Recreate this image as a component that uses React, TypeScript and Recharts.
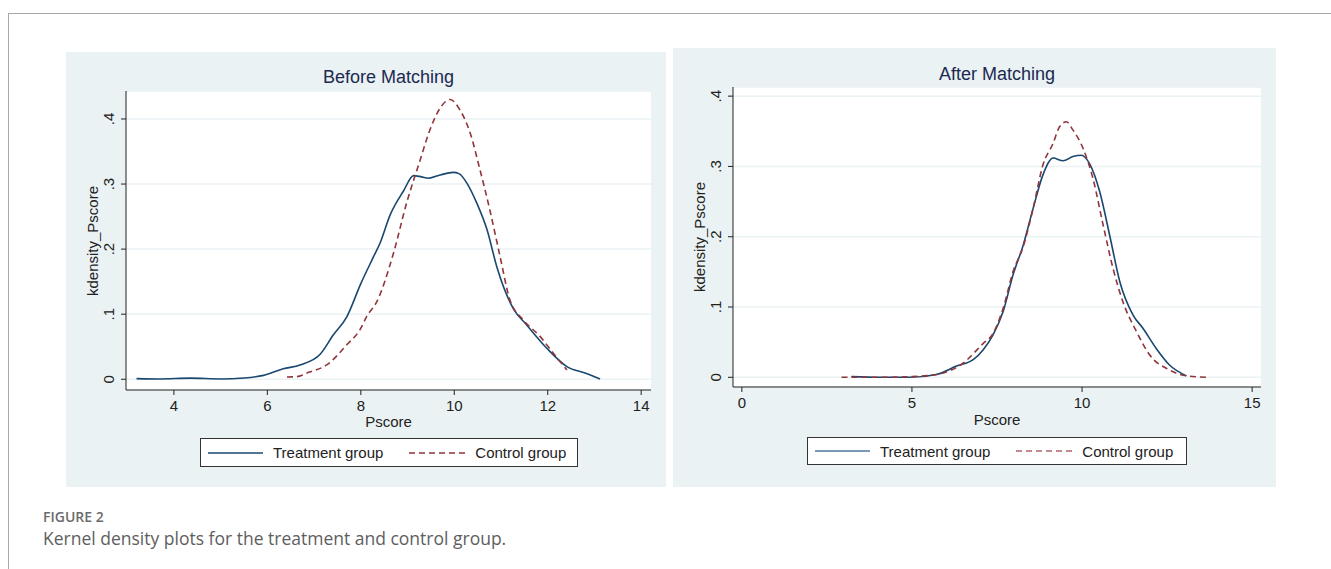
import React from 'react';
import { LineChart, Line, XAxis, YAxis, CartesianGrid } from 'recharts';

// Before matching – treatment group (kernel density of Pscore)
const beforeTreatX = [3.2, 3.7, 4.35, 5.0, 5.5, 5.92, 6.34, 6.7, 7.13, 7.41, 7.7, 8.0, 8.27, 8.41, 8.63, 8.91, 9.13, 9.3, 9.45, 9.7, 9.98, 10.1, 10.27, 10.48, 10.7, 10.91, 11.26, 11.55, 11.98, 12.41, 12.83, 13.12];
const beforeTreatY = [0.001, 0.0005, 0.0017, 0.0005, 0.002, 0.006, 0.016, 0.022, 0.0385, 0.068, 0.096, 0.147, 0.188, 0.209, 0.253, 0.289, 0.313, 0.311, 0.309, 0.314, 0.318, 0.316, 0.3015, 0.271, 0.23, 0.173, 0.109, 0.0835, 0.0477, 0.0194, 0.009, 0.0005];

// Before matching – control group
const beforeCtrlX = [6.42, 6.63, 6.9, 7.27, 7.7, 7.98, 8.13, 8.34, 8.7, 8.98, 9.27, 9.48, 9.7, 9.91, 10.12, 10.34, 10.55, 10.76, 10.98, 11.19, 11.48, 11.84, 12.12, 12.41];
const beforeCtrlY = [0.0035, 0.004, 0.011, 0.022, 0.053, 0.076, 0.097, 0.119, 0.194, 0.271, 0.337, 0.3835, 0.417, 0.43, 0.414, 0.3785, 0.322, 0.2605, 0.1887, 0.122, 0.091, 0.0655, 0.04, 0.0143];

// After matching – treatment group
const afterTreatX = [3.22, 4.06, 4.94, 5.72, 6.31, 6.8, 7.09, 7.38, 7.68, 7.97, 8.27, 8.56, 8.85, 9.15, 9.44, 9.73, 9.98, 10.22, 10.52, 10.81, 11.11, 11.5, 11.79, 12.18, 12.57, 13.07];
const afterTreatY = [0.001, 0, 0, 0.004, 0.016, 0.025, 0.039, 0.06, 0.0935, 0.1455, 0.188, 0.24, 0.288, 0.312, 0.308, 0.314, 0.316, 0.304, 0.264, 0.2025, 0.136, 0.0886, 0.0697, 0.041, 0.0175, 0.002];

// After matching – control group
const afterCtrlX = [2.93, 4.06, 5.0, 5.72, 6.5, 7.09, 7.38, 7.68, 7.97, 8.27, 8.56, 8.85, 9.15, 9.34, 9.54, 9.73, 10.03, 10.32, 10.62, 10.91, 11.2, 11.6, 11.99, 12.57, 13.07, 13.75];
const afterCtrlY = [0, 0, 0.001, 0.004, 0.02, 0.048, 0.062, 0.098, 0.15, 0.186, 0.24, 0.302, 0.333, 0.3565, 0.3636, 0.352, 0.3257, 0.283, 0.2166, 0.155, 0.1076, 0.065, 0.0317, 0.0104, 0.002, 0];

const yTicks = [0, 0.1, 0.2, 0.3, 0.4];
const beforeXTicks = [4, 6, 8, 10, 12, 14];
const afterXTicks = [0, 5, 10, 15];

const NAVY = '#1a476f';
const MAROON = '#90353b';
const PANEL_BG = '#eaf2f3';
const FONT = '"Liberation Sans", Arial, sans-serif';
const TICK_SIZE = 15;

const toPoints = (xs: number[], ys: number[]) => xs.map((x, i) => ({ x, y: ys[i] }));

const fmtY = (v: number) => (v === 0 ? '0' : v.toFixed(1).replace(/^0/, ''));

// Stata-style rotated y tick labels
const RotatedTick = (props: any) => {
  const { x, y, payload } = props;
  return (
    <g transform={`translate(${x - 5},${y}) rotate(-90)`}>
      <text x={0} y={0} textAnchor="middle" fill="#222" fontSize={TICK_SIZE} fontFamily={FONT}>
        {fmtY(payload.value)}
      </text>
    </g>
  );
};

interface PanelProps {
  left: number;
  top: number;
  width: number;
  height: number;
  title: string;
  titleBaseline: number;
  plotTop: number;
  plotBottom: number;
  xDomain: [number, number];
  yDomain: [number, number];
  xTicks: number[];
  treat: { x: number; y: number }[];
  ctrl: { x: number; y: number }[];
  legendBox: { left: number; top: number; width: number; height: number };
  pscoreY: number;
  fadedLegend?: boolean;
}

const Panel: React.FC<PanelProps> = (p) => {
  const plotLeft = 60;
  const plotRight = p.width - 15;
  const cx = (plotLeft + plotRight) / 2;
  const cy = (p.plotTop + p.plotBottom) / 2;
  const legendBlue = p.fadedLegend ? '#4f7799' : NAVY;
  const legendRed = p.fadedLegend ? '#b0666b' : MAROON;
  return (
    <div
      style={{
        position: 'absolute',
        left: p.left,
        top: p.top,
        width: p.width,
        height: p.height,
        background: PANEL_BG,
        fontFamily: FONT,
      }}
    >
      <div
        style={{
          position: 'absolute',
          left: 0,
          width: p.width,
          top: p.titleBaseline - 17,
          textAlign: 'center',
          paddingLeft: cx * 2 - p.width,
          boxSizing: 'border-box',
          fontSize: 18,
          lineHeight: '20px',
          color: '#1c2951',
        }}
      >
        {p.title}
      </div>
      <div
        style={{
          position: 'absolute',
          left: 27 - 60,
          top: cy - 10,
          width: 120,
          textAlign: 'center',
          fontSize: TICK_SIZE,
          lineHeight: '20px',
          color: '#222',
          transform: 'rotate(-90deg)',
        }}
      >
        kdensity_Pscore
      </div>
      <LineChart
        width={p.width}
        height={p.height}
        margin={{ top: p.plotTop, right: 15, bottom: 0, left: 0 }}
        style={{ position: 'absolute', left: 0, top: 0 }}
      >
        <CartesianGrid vertical={false} stroke={PANEL_BG} strokeWidth={1.5} fill="#ffffff" />
        <XAxis
          dataKey="x"
          type="number"
          domain={p.xDomain}
          ticks={p.xTicks}
          allowDataOverflow
          height={p.height - p.plotBottom}
          tickSize={5}
          tickMargin={5}
          stroke="#222"
          tick={{ fill: '#222', fontSize: TICK_SIZE, fontFamily: FONT }}
        />
        <YAxis
          dataKey="y"
          type="number"
          domain={p.yDomain}
          ticks={yTicks}
          allowDataOverflow
          width={plotLeft}
          tickSize={5}
          tickMargin={2}
          stroke="#222"
          tick={<RotatedTick />}
        />
        <Line
          data={p.treat}
          dataKey="y"
          type="monotone"
          stroke={NAVY}
          strokeWidth={1.6}
          dot={false}
          isAnimationActive={false}
        />
        <Line
          data={p.ctrl}
          dataKey="y"
          type="monotone"
          stroke={MAROON}
          strokeWidth={1.6}
          strokeDasharray="6 4"
          dot={false}
          isAnimationActive={false}
        />
      </LineChart>
      <div
        style={{
          position: 'absolute',
          left: cx - 30,
          width: 60,
          top: p.pscoreY - 10,
          textAlign: 'center',
          fontSize: TICK_SIZE,
          lineHeight: '20px',
          color: '#222',
        }}
      >
        Pscore
      </div>
      <div
        style={{
          position: 'absolute',
          left: p.legendBox.left,
          top: p.legendBox.top,
          width: p.legendBox.width,
          height: p.legendBox.height,
          boxSizing: 'border-box',
          border: '1px solid #333',
          background: '#fff',
          display: 'flex',
          alignItems: 'center',
          fontSize: TICK_SIZE,
          color: '#222',
        }}
      >
        <svg width={55} height={4} style={{ marginLeft: 7 }}>
          <line x1={0} y1={2} x2={55} y2={2} stroke={legendBlue} strokeWidth={1.6} />
        </svg>
        <span style={{ marginLeft: 10 }}>Treatment group</span>
        <svg width={56} height={4} style={{ marginLeft: 26 }}>
          <line x1={0} y1={2} x2={56} y2={2} stroke={legendRed} strokeWidth={1.6} strokeDasharray="6 4" />
        </svg>
        <span style={{ marginLeft: 10 }}>Control group</span>
      </div>
    </div>
  );
};

export default function App() {
  return (
    <div
      style={{
        position: 'absolute',
        left: 0,
        top: 0,
        width: 1331,
        height: 569,
        background: '#fff',
        overflow: 'hidden',
      }}
    >
      <div style={{ position: 'absolute', left: 8, top: 13, width: 1323, height: 1, background: '#a8a8a8' }} />
      <div style={{ position: 'absolute', left: 8, top: 13, width: 1, height: 556, background: '#a8a8a8' }} />

      <Panel
        left={66}
        top={52}
        width={600}
        height={435}
        title="Before Matching"
        titleBaseline={32}
        plotTop={39}
        plotBottom={338}
        xDomain={[2.975, 14.21]}
        yDomain={[-0.0165, 0.443]}
        xTicks={beforeXTicks}
        treat={toPoints(beforeTreatX, beforeTreatY)}
        ctrl={toPoints(beforeCtrlX, beforeCtrlY)}
        legendBox={{ left: 134, top: 386, width: 378, height: 29 }}
        pscoreY={370}
      />
      <Panel
        left={673}
        top={48}
        width={603}
        height={439}
        title="After Matching"
        titleBaseline={33}
        plotTop={39}
        plotBottom={339}
        xDomain={[-0.26, 15.26]}
        yDomain={[-0.0138, 0.413]}
        xTicks={afterXTicks}
        treat={toPoints(afterTreatX, afterTreatY)}
        ctrl={toPoints(afterCtrlX, afterCtrlY)}
        legendBox={{ left: 134, top: 389, width: 380, height: 28 }}
        pscoreY={372}
        fadedLegend
      />

      <div
        style={{
          position: 'absolute',
          left: 43,
          top: 507,
          fontFamily: '"Open Sans", "Noto Sans", sans-serif',
          fontSize: 14,
          fontWeight: 600,
          color: '#6b6b6b',
        }}
      >
        FIGURE 2
      </div>
      <div
        style={{
          position: 'absolute',
          left: 43,
          top: 526,
          fontFamily: '"Open Sans", "Noto Sans", sans-serif',
          fontSize: 17.5,
          color: '#5e5e5e',
        }}
      >
        Kernel density plots for the treatment and control group.
      </div>
    </div>
  );
}
